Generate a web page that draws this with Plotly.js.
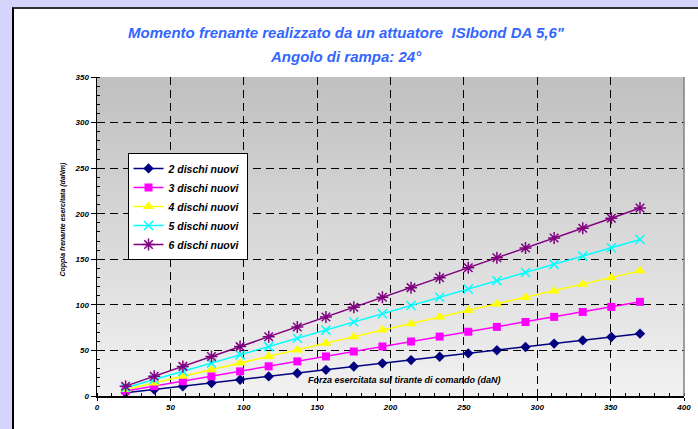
<!DOCTYPE html>
<html>
<head>
<meta charset="utf-8">
<script src="https://cdn.plot.ly/plotly-3.0.1.min.js"></script>
<style>
  html, body { margin:0; padding:0; width:698px; height:429px; overflow:hidden; background:#d4d4fc; }
  #frame { position:absolute; left:12px; top:7px; width:686px; height:422px; background:#ffffff;
           border-left:2px solid #000; border-top:2px solid #333; box-sizing:border-box; }
  #chart { position:absolute; left:0; top:0; width:684px; height:420px; }
</style>
</head>
<body>
<div id="frame"><div id="chart"></div></div>
<script>
// ---- data ----
const forza = [19.5, 39, 58.5, 78, 97.5, 117, 136.5, 156, 175, 194.5, 214, 233.5, 253, 272.5, 292, 311.5, 331, 350.5, 370];
const dischi2 = [3.5, 7.1, 10.7, 14.2, 17.9, 21.5, 25.0, 28.7, 32.3, 35.8, 39.4, 43.0, 46.8, 50.2, 53.8, 57.5, 61.0, 64.7, 68.4];
const dischi3 = [5.4, 10.8, 16.2, 21.6, 27.0, 32.6, 38.0, 43.4, 48.8, 54.3, 59.8, 65.2, 70.5, 75.8, 81.2, 86.8, 92.2, 97.8, 103.3];
const dischi4 = [7.2, 14.4, 21.7, 28.9, 36.1, 43.4, 50.6, 57.9, 65.0, 72.3, 79.3, 86.6, 93.8, 100.9, 108.2, 115.3, 122.6, 129.8, 137.3];
const dischi5 = [9.0, 18.0, 27.0, 36.1, 45.1, 54.2, 63.3, 72.3, 81.2, 90.3, 99.2, 108.3, 117.4, 126.6, 135.5, 144.4, 153.5, 162.6, 171.8];
const dischi6 = [10.8, 21.6, 32.5, 43.3, 54.2, 65.0, 75.8, 86.7, 97.4, 108.3, 118.9, 129.8, 140.7, 151.6, 162.4, 173.3, 184.0, 195.0, 206.2];
const seriesNames = ["2 dischi nuovi", "3 dischi nuovi", "4 dischi nuovi", "5 dischi nuovi", "6 dischi nuovi"];
const titleLine1 = "Momento frenante realizzato da un attuatore  ISIbond DA 5,6\"";
const titleLine2 = "Angolo di rampa: 24°";
const xTitle = "Forza esercitata sul tirante di comando (daN)";
const yTitle = "Coppia frenante esercitata (daNm)";

// ---- styles ----
const FONT = "Liberation Sans, Arial, sans-serif";
const styles = [
  {color:"#000080", symbol:"diamond", size:8, lw:0},
  {color:"#ff00ff", symbol:"square", size:8, lw:0},
  {color:"#ffff00", symbol:"triangle-up", size:10, lw:0},
  {color:"#00ffff", symbol:"x-thin-open", size:9, lw:1.5},
  {color:"#800080", symbol:"asterisk-open", size:10, lw:1.5}
];
const ys = [dischi2, dischi3, dischi4, dischi5, dischi6];

const traces = ys.map((y, i) => ({
  type: "scatter", mode: "lines+markers", name: seriesNames[i],
  x: forza, y: y,
  line: {color: styles[i].color, width: 1.5},
  marker: {color: styles[i].color, symbol: styles[i].symbol, size: styles[i].size,
           line: {color: styles[i].color, width: styles[i].lw}}
}));

// gradient background for the plot area
const cv = document.createElement("canvas");
cv.width = 4; cv.height = 256;
const ctx = cv.getContext("2d");
const g = ctx.createLinearGradient(0, 0, 0, 256);
g.addColorStop(0, "#c0c0c0");
g.addColorStop(1, "#f2f2f2");
ctx.fillStyle = g; ctx.fillRect(0, 0, 4, 256);
const bgURL = cv.toDataURL("image/png");

const tickFont = {family: FONT, size: 8, color: "#000", weight: "bold", style: "italic"};
const titleFont = {family: FONT, size: 15, color: "#3366ff", weight: "bold", style: "italic"};

const layout = {
  width: 684, height: 420,
  margin: {l: 83, r: 14, t: 68, b: 33, pad: 0},
  paper_bgcolor: "rgba(0,0,0,0)",
  plot_bgcolor: "rgba(0,0,0,0)",
  showlegend: true,
  title: {
    text: titleLine1,
    font: titleFont,
    x: 0.4854, xref: "container", xanchor: "center",
    y: 0.943, yref: "container", yanchor: "middle"
  },
  xaxis: {
    range: [0, 400], tick0: 0, dtick: 50, autorange: false,
    showgrid: true, gridcolor: "#000", gridwidth: 1, griddash: "8px,5px",
    showline: true, linecolor: "#000", linewidth: 1.5, zeroline: false,
    ticks: "outside", ticklen: 3, tickcolor: "#000", tickwidth: 1,
    minor: {dtick: 10, ticks: "inside", ticklen: 3, tickcolor: "#000", showgrid: false},
    tickfont: tickFont
  },
  yaxis: {
    range: [0, 350], tick0: 0, dtick: 50, autorange: false,
    showgrid: true, gridcolor: "#000", gridwidth: 1, griddash: "8px,5px",
    showline: true, linecolor: "#000", linewidth: 1.5, zeroline: false,
    ticks: "outside", ticklen: 5, tickcolor: "#000", tickwidth: 1,
    minor: {dtick: 10, ticks: "inside", ticklen: 3, tickcolor: "#000", showgrid: false},
    tickfont: tickFont
  },
  legend: {
    x: 0.052, y: 0.762, xanchor: "left", yanchor: "top",
    bgcolor: "#ffffff", bordercolor: "#000", borderwidth: 1,
    font: {family: FONT, size: 10.5, color: "#000", weight: "bold", style: "italic"}
  },
  annotations: [
    {
      text: titleLine2, xref: "paper", yref: "paper", x: 0.4242, y: 1.0627,
      showarrow: false, xanchor: "center", yanchor: "middle",
      font: titleFont
    },
    {
      text: xTitle, xref: "paper", yref: "paper", x: 0.5247, y: 0.05,
      showarrow: false, xanchor: "center", yanchor: "middle",
      font: {family: FONT, size: 9, color: "#000", weight: "bold", style: "italic"}
    },
    {
      text: yTitle, xref: "paper", yref: "paper", x: -0.058, y: 0.556,
      showarrow: false, xanchor: "center", yanchor: "middle", textangle: -90,
      font: {family: FONT, size: 7, color: "#000", weight: "bold", style: "italic"}
    }
  ],
  shapes: [
    {type: "line", xref: "paper", yref: "paper", x0: 1, x1: 1, y0: 0, y1: 1,
     line: {color: "#808080", width: 1.5}, layer: "above"}
  ],
  images: [{
    source: bgURL, xref: "paper", yref: "paper", x: 0, y: 1, sizex: 1, sizey: 1,
    xanchor: "left", yanchor: "top", sizing: "stretch", layer: "below"
  }]
};

Plotly.newPlot("chart", traces, layout, {displayModeBar: false, staticPlot: true});
</script>
</body>
</html>
